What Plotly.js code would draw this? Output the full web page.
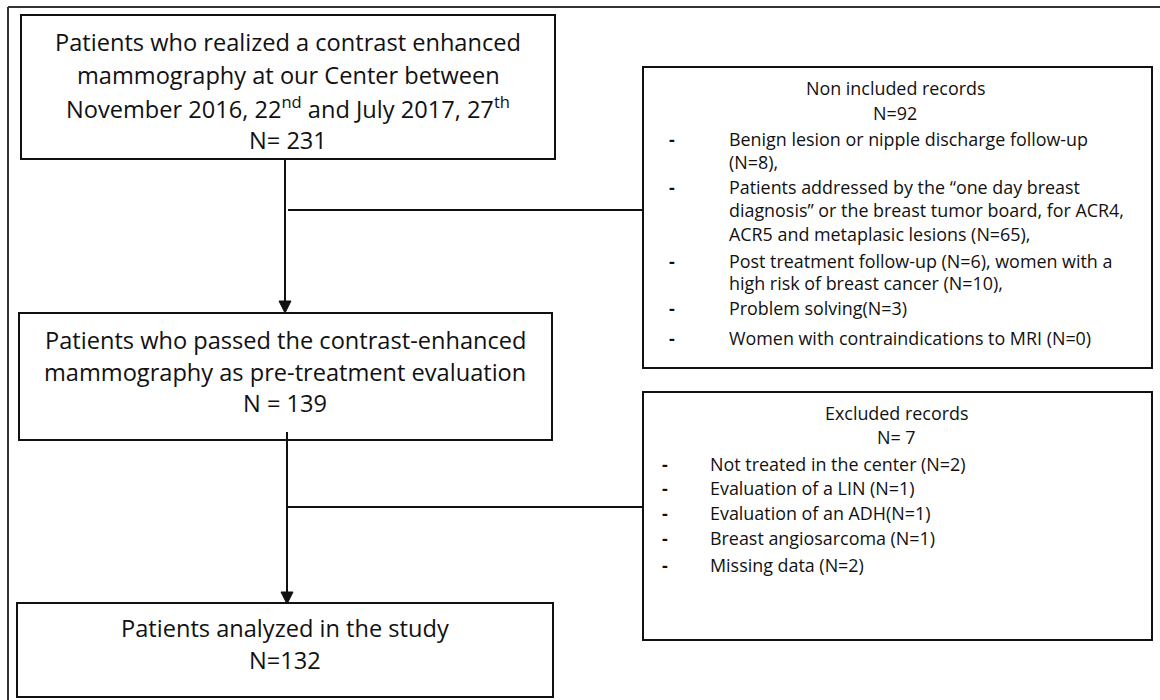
<!DOCTYPE html>
<html>
<head>
<meta charset="utf-8">
<script src="https://cdn.plot.ly/plotly-3.0.1.min.js"></script>
<style>html,body{margin:0;padding:0;background:#fff;}#chart{width:1160px;height:700px;}</style>
</head>
<body>
<div id="chart"></div>
<script>
const totalN = 231;
const preTreatmentN = 139;
const analyzedN = 132;
const nonIncludedN = 92;
const excludedN = 7;

const box1Lines = [
  "Patients who realized a contrast enhanced",
  "mammography at our Center between",
  "November 2016, 22<sup>nd</sup> and July 2017, 27<sup>th</sup>",
  "N= " + totalN
];
const box2Lines = [
  "Patients who passed the contrast-enhanced",
  "mammography as pre-treatment evaluation",
  "N = " + preTreatmentN
];
const box3Lines = [
  "Patients analyzed in the study",
  "N=" + analyzedN
];
const nonIncludedHeader = ["Non included records", "N=" + nonIncludedN];
const nonIncludedItems = [
  ["Benign lesion or nipple discharge follow-up", "(N=8),"],
  ["Patients addressed by the \u201cone day breast", "diagnosis\u201d or the breast tumor board, for ACR4,", "ACR5 and metaplasic lesions (N=65),"],
  ["Post treatment follow-up (N=6), women with a", "high risk of breast cancer (N=10),"],
  ["Problem solving(N=3)"],
  ["Women with contraindications to MRI (N=0)"]
];
const excludedHeader = ["Excluded records", "N= " + excludedN];
const excludedItems = [
  "Not treated in the center (N=2)",
  "Evaluation of a LIN (N=1)",
  "Evaluation of an ADH(N=1)",
  "Breast angiosarcoma (N=1)",
  "Missing data (N=2)"
];

// ---- Layout geometry (pixel-like coordinates, y downward) ----
const FONT = "'Open Sans', Lato, sans-serif";
const BIG = 23.6;
const SMALL = 17.9;
const shapes = [];
const annotations = [];
function rect(x0, y0, x1, y1, w, c) {
  shapes.push({type: 'rect', xref: 'x', yref: 'y', x0, y0, x1, y1,
    line: {color: c || '#111', width: w || 2}, fillcolor: 'rgba(0,0,0,0)'});
}
function line(x0, y0, x1, y1, c) {
  shapes.push({type: 'line', xref: 'x', yref: 'y', x0, y0, x1, y1, line: {color: c || '#111', width: 2}});
}
function arrowDown(x, y0, y1) {
  line(x, y0, x, y1 - 10);
  shapes.push({type: 'path', xref: 'x', yref: 'y',
    path: `M ${x - 6} ${y1 - 12} L ${x + 6} ${y1 - 12} L ${x} ${y1} Z`,
    fillcolor: '#111', line: {color: '#111', width: 1}});
}
function text(x, y, t, size, anchor) {
  annotations.push({x, y, xref: 'x', yref: 'y', text: t, showarrow: false,
    xanchor: anchor || 'center', yanchor: 'middle',
    font: {family: FONT, size: size, color: '#111'}});
}

// outer frame (only left and top edges are visible)
line(8, 7, 1160, 7, '#333');
line(8, 7, 8, 700, '#333');

// main boxes
rect(21, 15, 555, 159);
rect(19, 313, 552, 440);
rect(17, 603, 553, 697);
// side boxes
rect(643, 67, 1152, 368);
rect(643, 392, 1152, 640);

// connectors
arrowDown(285, 159, 313);
line(288, 210, 643, 210);
arrowDown(287, 432, 604);
line(287, 507, 643, 507);

// main box texts
const box1Y = [42, 75, 107, 140];
box1Lines.forEach((t, i) => text(288, box1Y[i], t, BIG));
const box2Y = [340, 372, 403];
box2Lines.forEach((t, i) => text(285, box2Y[i], t, BIG));
const box3Y = [628, 660];
box3Lines.forEach((t, i) => text(285, box3Y[i], t, BIG));

// Non included box
const niHeadY = [88, 113];
nonIncludedHeader.forEach((t, i) => text(895, niHeadY[i], t, SMALL));
const niLineY = [139, 162, 187, 210, 234, 261, 283, 308, 338];
let k = 0;
nonIncludedItems.forEach(item => {
  item.forEach((t, j) => {
    if (j === 0) text(672, niLineY[k], "<b>-</b>", SMALL);
    text(727, niLineY[k], t, SMALL, 'left');
    k++;
  });
});

// Excluded box
const exHeadY = [413, 437];
excludedHeader.forEach((t, i) => text(896, exHeadY[i], t, SMALL));
const exLineY = [464, 488, 513, 538, 565];
excludedItems.forEach((t, i) => {
  text(665, exLineY[i], "<b>-</b>", SMALL);
  text(708, exLineY[i], t, SMALL, 'left');
});

const data = [{x: [], y: [], type: 'scatter', mode: 'markers', hoverinfo: 'skip', showlegend: false}];
const layout = {
  width: 1160, height: 700,
  margin: {l: 0, r: 0, t: 0, b: 0},
  paper_bgcolor: '#fff', plot_bgcolor: '#fff',
  xaxis: {range: [0, 1160], visible: false, fixedrange: true},
  yaxis: {range: [700, 0], visible: false, fixedrange: true},
  shapes, annotations, showlegend: false
};
Plotly.newPlot('chart', data, layout, {displayModeBar: false, staticPlot: true});
</script>
</body>
</html>
